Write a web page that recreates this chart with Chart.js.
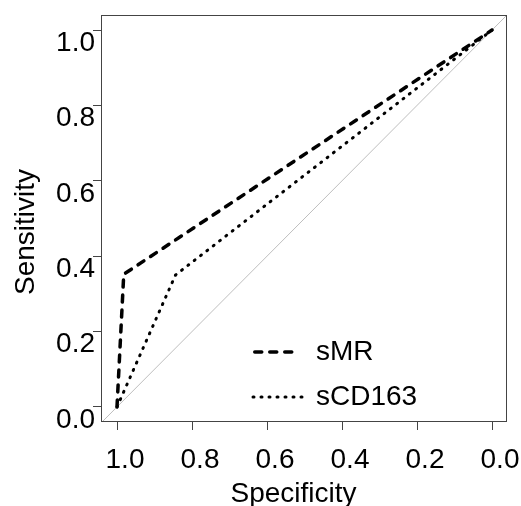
<!DOCTYPE html>
<html><head><meta charset="utf-8">
<script src="https://cdn.jsdelivr.net/npm/chart.js@4"></script>
<style>html,body{margin:0;padding:0;background:#fff}#wrap{width:521px;height:506px}</style>
</head><body><div id="wrap"><canvas id="c" width="521" height="506"></canvas></div>
<script>
// ---- data ----
const specificityTicks = [1.0, 0.8, 0.6, 0.4, 0.2, 0.0];
const sensitivityTicks = [0.0, 0.2, 0.4, 0.6, 0.8, 1.0];
const sMR_spec = [1.0, 0.982, 0.0];
const sMR_sens = [0.0, 0.352, 1.0];
const sCD163_spec = [1.0, 0.844, 0.0];
const sCD163_sens = [0.0, 0.350, 1.0];
const ref_spec = [1.04, -0.04];
const ref_sens = [-0.04, 1.04];
const seriesNames = ['sMR', 'sCD163'];
const xTitle = 'Specificity';
const yTitle = 'Sensitivity';

const FONT = '"Liberation Sans", Arial, Helvetica, sans-serif';
const FSIZE = 28;
const toPts = (xs, ys) => xs.map((x, i) => ({x: x, y: ys[i]}));

const boxPlugin = {
  id: 'box',
  afterDraw(chart) {
    const a = chart.chartArea, ctx = chart.ctx;
    ctx.save();
    ctx.strokeStyle = '#444';
    ctx.lineWidth = 1;
    ctx.strokeRect(Math.round(a.left) - 0.5, Math.round(a.top) + 0.5,
                   Math.round(a.right - a.left), Math.round(a.bottom - a.top) - 1);
    ctx.restore();
  }
};

const legendPlugin = {
  id: 'inlegend',
  afterDatasetsDraw(chart) {
    const ctx = chart.ctx, a = chart.chartArea;
    const rows = [
      {ds: chart.data.datasets[0], y: a.top + 337, x0: a.left + 152.75, x1: a.left + 190},
      {ds: chart.data.datasets[1], y: a.top + 382, x0: a.left + 151, x1: a.left + 200}
    ];
    ctx.save();
    rows.forEach(r => {
      ctx.beginPath();
      ctx.setLineDash(r.ds.borderDash || []);
      ctx.lineWidth = r.ds.borderWidth;
      ctx.lineCap = r.ds.borderCapStyle || 'butt';
      ctx.strokeStyle = r.ds.borderColor;
      ctx.moveTo(r.x0, r.y);
      ctx.lineTo(r.x1, r.y);
      ctx.stroke();
      ctx.setLineDash([]);
      ctx.fillStyle = '#000';
      ctx.font = FSIZE + 'px ' + FONT;
      ctx.textAlign = 'left';
      ctx.textBaseline = 'middle';
      ctx.fillText(r.ds.label, a.left + 214, r.y + 0.5);
    });
    ctx.restore();
  }
};

const titlesPlugin = {
  id: 'axtitles',
  afterDraw(chart) {
    const ctx = chart.ctx, a = chart.chartArea;
    ctx.save();
    ctx.fillStyle = '#000';
    ctx.font = FSIZE + 'px ' + FONT;
    ctx.textAlign = 'center';
    ctx.textBaseline = 'alphabetic';
    ctx.fillText(xTitle, (a.left + a.right) / 2 - 11, a.bottom + 80);
    ctx.translate(33.5, (a.top + a.bottom) / 2 + 13.5);
    ctx.rotate(-Math.PI / 2);
    ctx.fillText(yTitle, 0, 0);
    ctx.restore();
  }
};

const fixPad = s => { s.paddingLeft = 0; s.paddingRight = 0; s.paddingTop = 0; s.paddingBottom = 0; };

new Chart(document.getElementById('c'), {
  type: 'scatter',
  data: {
    datasets: [
      {label: seriesNames[0], data: toPts(sMR_spec, sMR_sens), showLine: true,
       borderColor: '#000', backgroundColor: '#000', borderWidth: 3.5,
       borderDash: [7, 8], borderCapStyle: 'round', pointRadius: 0, tension: 0},
      {label: seriesNames[1], data: toPts(sCD163_spec, sCD163_sens), showLine: true,
       borderColor: '#000', backgroundColor: '#000', borderWidth: 3,
       borderDash: [1, 7], borderCapStyle: 'round', pointRadius: 0, tension: 0},
      {label: 'reference', data: toPts(ref_spec, ref_sens), showLine: true,
       borderColor: '#bebebe', borderWidth: 1, pointRadius: 0, tension: 0, clip: 0}
    ]
  },
  options: {
    responsive: false,
    devicePixelRatio: 1,
    animation: false,
    events: [],
    layout: {padding: {top: 15, right: 14, left: 0, bottom: 0}},
    plugins: {legend: {display: false}, tooltip: {enabled: false}, title: {display: false}},
    scales: {
      x: {
        type: 'linear', reverse: true, min: -0.04, max: 1.04,
        afterBuildTicks: s => { s.ticks = specificityTicks.map(v => ({value: v})); },
        afterFit: s => { s.height = 84; fixPad(s); },
        ticks: {callback: v => Number(v).toFixed(1), color: '#000', font: {size: FSIZE, family: FONT},
                labelOffset: 8, padding: 13, maxRotation: 0, minRotation: 0, autoSkip: false},
        grid: {drawOnChartArea: false, drawTicks: true, tickLength: 8, color: '#444', lineWidth: 1},
        border: {display: false}
      },
      y: {
        type: 'linear', min: -0.04, max: 1.04,
        afterBuildTicks: s => { s.ticks = sensitivityTicks.map(v => ({value: v})); },
        afterFit: s => { s.width = 102; fixPad(s); },
        ticks: {callback: v => Number(v).toFixed(1), color: '#000', font: {size: FSIZE, family: FONT},
                labelOffset: 13, padding: -2, autoSkip: false},
        grid: {drawOnChartArea: false, drawTicks: true, tickLength: 9, color: '#444', lineWidth: 1},
        border: {display: false}
      }
    }
  },
  plugins: [boxPlugin, legendPlugin, titlesPlugin]
});
</script>
</body></html>
